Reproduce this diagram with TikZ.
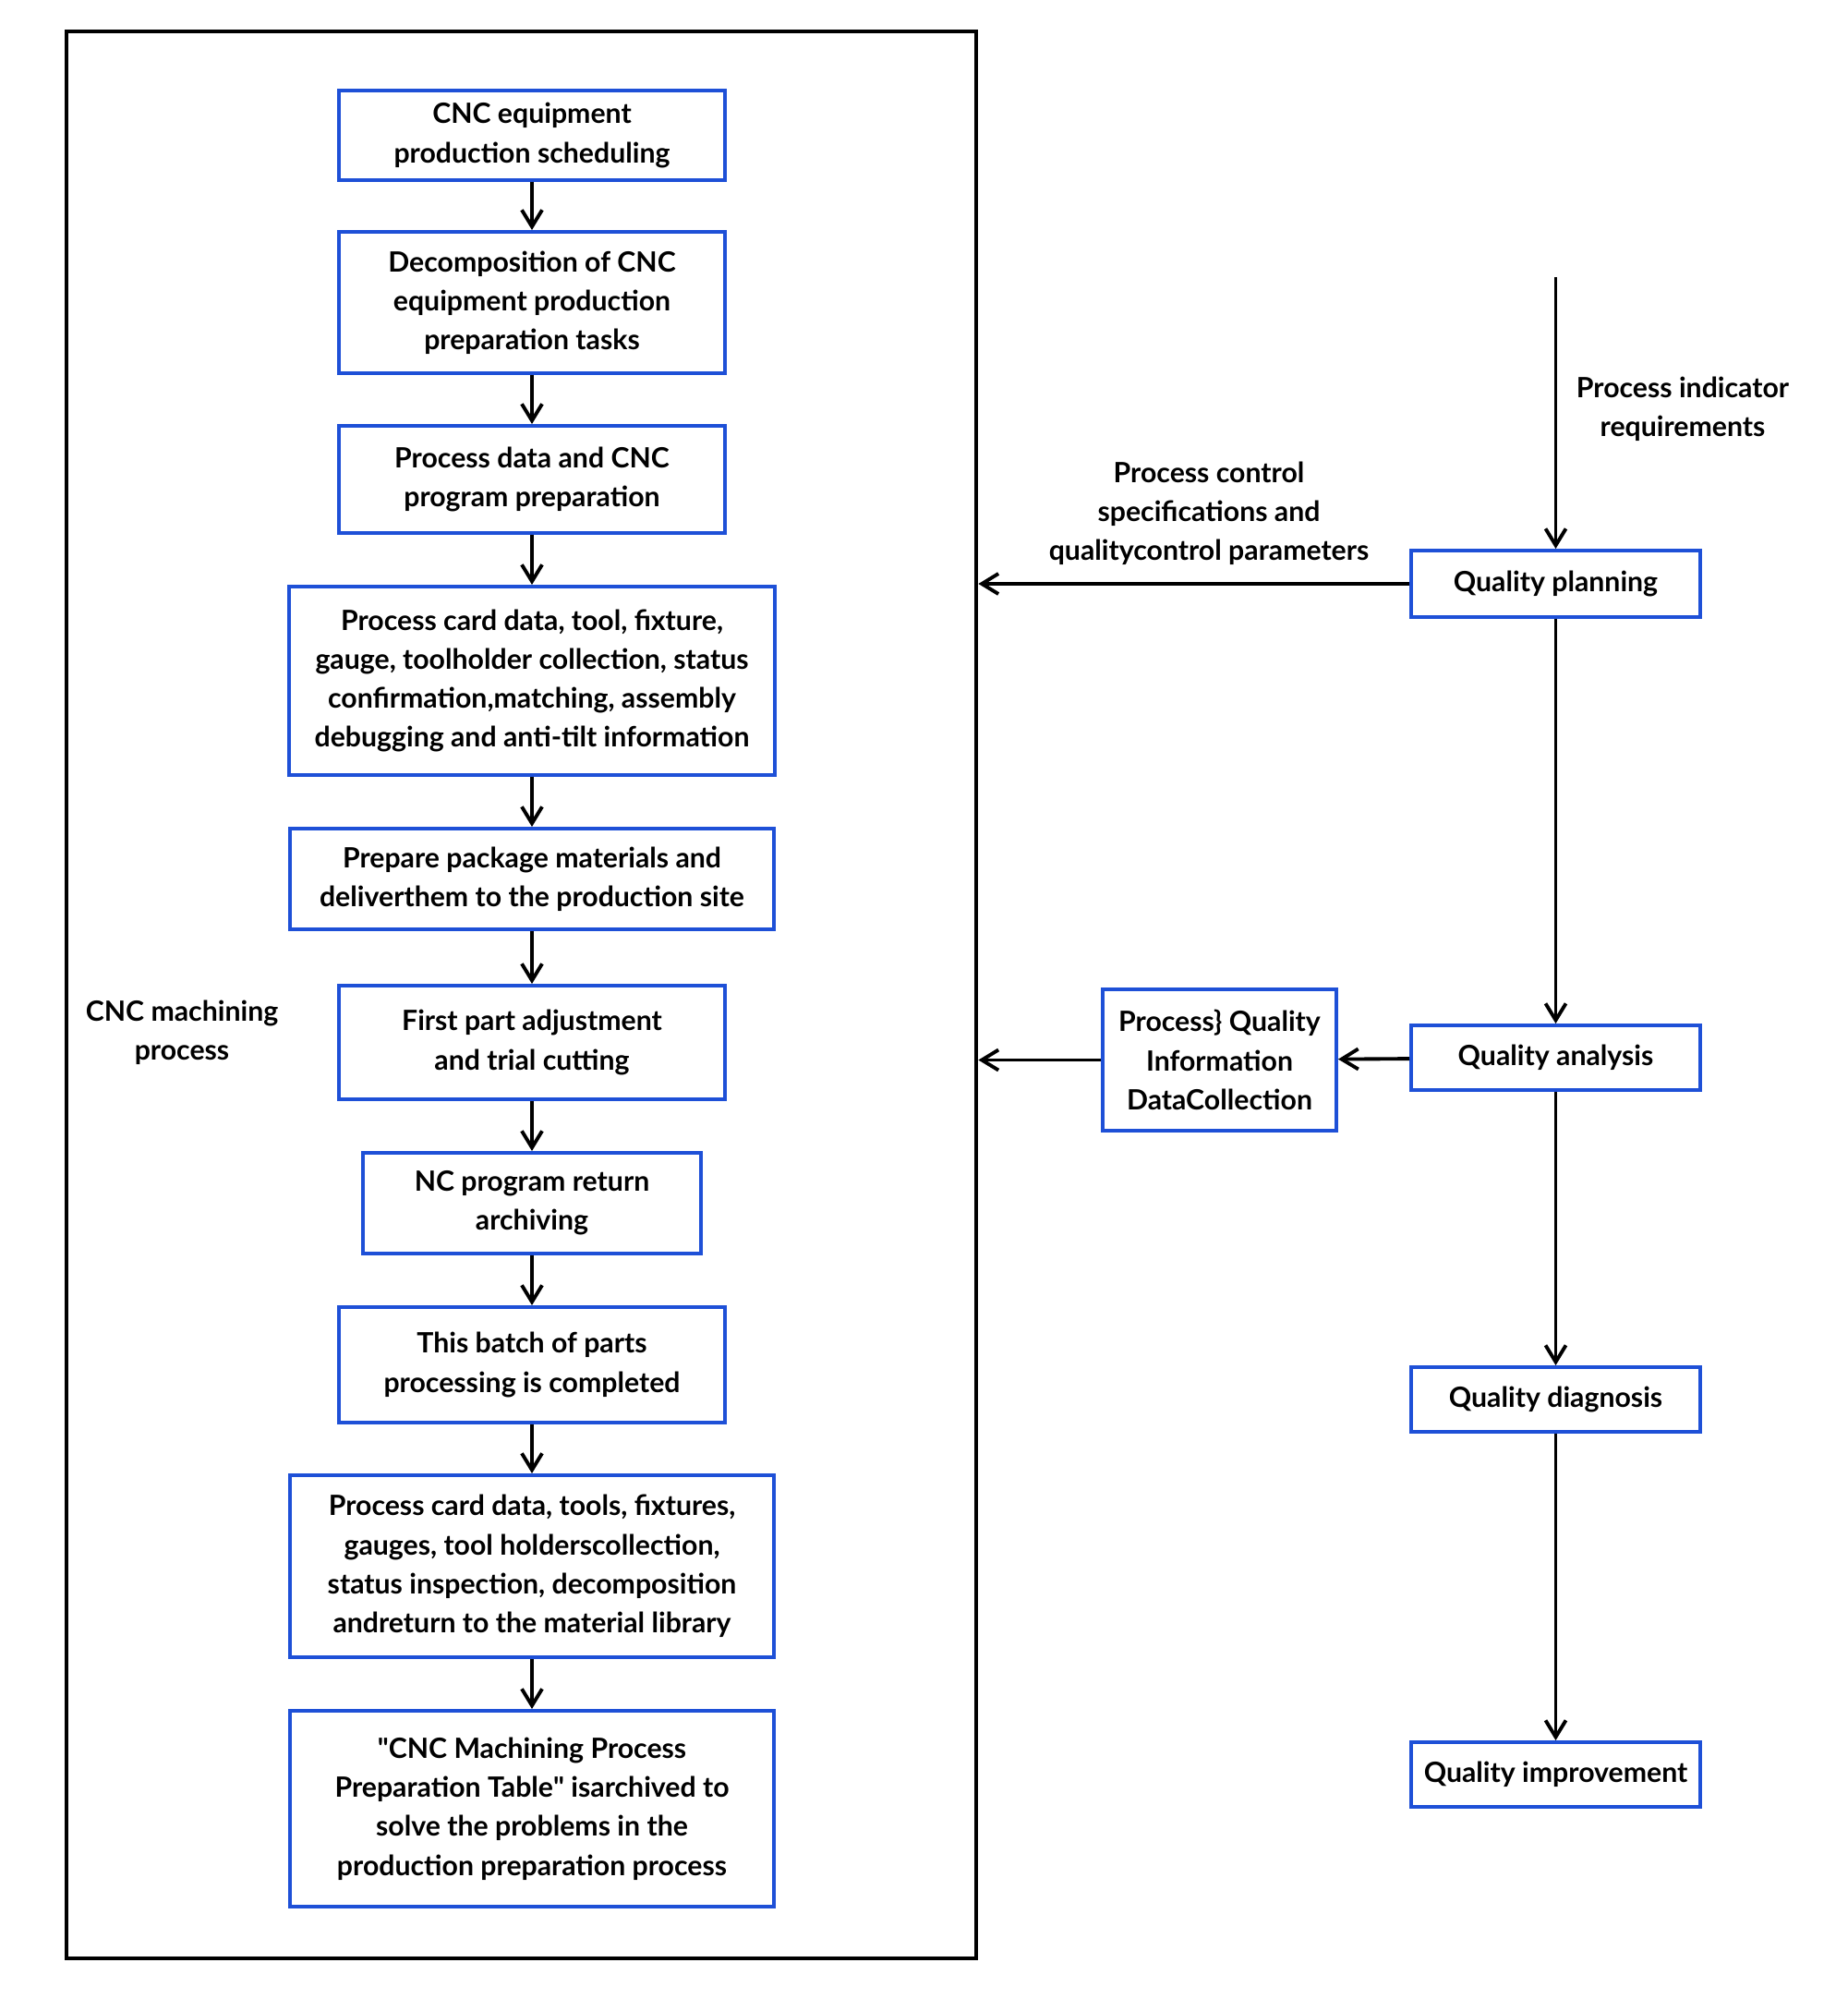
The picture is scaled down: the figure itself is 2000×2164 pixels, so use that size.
\documentclass[tikz,border=0pt]{standalone}
\usepackage{fontspec}
\setmainfont{Lato}
\usetikzlibrary{arrows.meta}
\definecolor{boxblue}{RGB}{30,80,215}

\begin{document}
\begin{tikzpicture}[x=0.01cm,y=-0.01cm,font=\bfseries\fontsize{8.6}{12}\selectfont]
	\useasboundingbox (0,0) rectangle (2000,2164);
	\node[draw=black,line width=1.2pt,minimum width=9.85cm,minimum height=20.84cm,inner sep=0pt] (frame) at (564.5,1077) {};

	\begin{scope}[every node/.style={draw=boxblue,line width=1.1pt,align=center,inner sep=0pt}]
		\node[minimum width=4.17cm,minimum height=0.97cm] (s1) at (576,146.5) {CNC equipment\\production scheduling};
		\node[minimum width=4.17cm,minimum height=1.53cm] (s2) at (576,327.5) {Decomposition of CNC\\equipment production\\preparation tasks};
		\node[minimum width=4.17cm,minimum height=1.16cm] (s3) at (576,519) {Process data and CNC\\program preparation};
		\node[minimum width=5.25cm,minimum height=2.04cm] (s4) at (576,737) {Process card data, tool, fixture,\\gauge, toolholder collection, status\\confirmation,matching, assembly\\debugging and anti-tilt information};
		\node[minimum width=5.24cm,minimum height=1.09cm] (s5) at (576,951.5) {Prepare package materials and\\deliverthem to the production site};
		\node[minimum width=4.17cm,minimum height=1.23cm] (s6) at (576,1128.5) {First part adjustment\\and trial cutting};
		\node[minimum width=3.65cm,minimum height=1.09cm] (s7) at (576,1302.5) {NC program return\\archiving};
		\node[minimum width=4.17cm,minimum height=1.25cm] (s8) at (576,1477.5) {This batch of parts\\processing is completed};
		\node[minimum width=5.24cm,minimum height=1.97cm] (s9) at (576,1695.5) {Process card data, tools, fixtures,\\gauges, tool holderscollection,\\status inspection, decomposition\\andreturn to the material library};
		\node[minimum width=5.24cm,minimum height=2.12cm] (s10) at (576,1958) {\textquotedbl CNC Machining Process\\Preparation Table\textquotedbl{} isarchived to\\solve the problems in the\\production preparation process};

		\node[minimum width=3.13cm,minimum height=0.72cm] (qp) at (1684.5,632) {Quality planning};
		\node[minimum width=3.13cm,minimum height=0.70cm] (qa) at (1684.5,1145) {Quality analysis};
		\node[minimum width=3.13cm,minimum height=0.70cm] (qd) at (1684.5,1515) {Quality diagnosis};
		\node[minimum width=3.13cm,minimum height=0.70cm] (qi) at (1684.5,1921) {Quality improvement};
		\node[minimum width=2.53cm,minimum height=1.53cm] (info) at (1320.5,1147.5) {Process\} Quality\\Information\\DataCollection};
	\end{scope}

	\begin{scope}[every node/.style={align=center}]
		\node (lcnc) at (197,1118) {CNC machining\\process};
		\node (lind) at (1822,443) {Process indicator\\requirements};
		\node (lctl) at (1309,556) {Process control\\specifications and\\qualitycontrol parameters};
	\end{scope}

	\coordinate (top) at (1684.5,300);

	\begin{scope}[>={Straight Barb[length=1.8mm,width=2.2mm]},
				  every edge/.style={draw=black,line width=1.1pt}]
		\path [->] (s1) edge (s2);
		\path [->] (s2) edge (s3);
		\path [->] (s3) edge (s4);
		\path [->] (s4) edge (s5);
		\path [->] (s5) edge (s6);
		\path [->] (s6) edge (s7);
		\path [->] (s7) edge (s8);
		\path [->] (s8) edge (s9);
		\path [->] (s9) edge (s10);
		\path [->] (top) edge (qp);
		\path [->] (qp) edge (qa);
		\path [->] (qa) edge (qd);
		\path [->] (qd) edge (qi);
		\path [->] (qp) edge (qp -| frame.east);
		\path [->] (qa) edge (info);
		\path [->] (info) edge (info -| frame.east);
	\end{scope}
\end{tikzpicture}
\end{document}
